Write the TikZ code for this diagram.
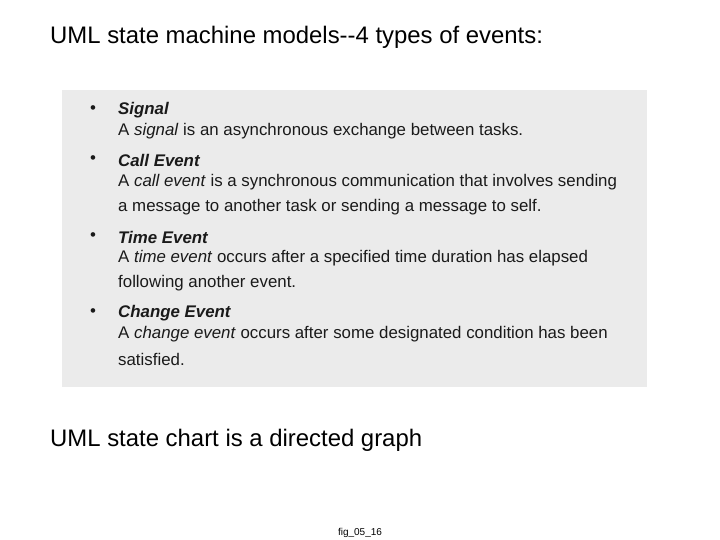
\documentclass[tikz,border=0pt]{standalone}
\usepackage{fontspec}
\setmainfont{Liberation Sans}
\definecolor{boxgray}{HTML}{EBEBEB}
\definecolor{txt}{HTML}{1A1A1A}
\begin{document}
\begin{tikzpicture}[x=1pt,y=-1pt,
  t/.style={anchor=west,inner sep=0pt,font=\fontsize{16.85}{20}\selectfont,text=txt},
  bul/.style={anchor=center,inner sep=0pt,font=\fontsize{16.85}{20}\selectfont,text=txt}]
\useasboundingbox (0,0) rectangle (720,540);
\fill[white] (0,0) rectangle (720,540);
\node[anchor=west,inner sep=0pt,font=\fontsize{23.9}{28}\selectfont] (title) at (50,37) {UML state machine models-{}-4 types of events:};
\fill[boxgray] (62,90) rectangle (647,387);
\foreach \y in {110,160,237,313} \node[bul] at (93,\y) {•};
\node[t] (s1) at (118,110) {\textbf{\textit{Signal}}};
\node[t] (s2) at (118,131) {A \textit{signal} is an asynchronous exchange between tasks.};
\node[t] (c1) at (118,160) {\textbf{\textit{Call Event}}};
\node[t] (c2) at (118,182) {A \textit{call event} is a synchronous communication that involves sending};
\node[t] (c3) at (118,207) {a message to another task or sending a message to self.};
\node[t] (e1) at (118,237) {\textbf{\textit{Time Event}}};
\node[t] (e2) at (118,258) {A \textit{time event} occurs after a specified time duration has elapsed};
\node[t] (e3) at (118,283) {following another event.};
\node[t] (g1) at (118,313) {\textbf{\textit{Change Event}}};
\node[t] (g2) at (118,334) {A \textit{change event} occurs after some designated condition has been};
\node[t] (g3) at (118,359) {satisfied.};
\node[anchor=west,inner sep=0pt,font=\fontsize{23.9}{28}\selectfont] (sub) at (50,440) {UML state chart is a directed graph};
\node[inner sep=0pt,font=\fontsize{10}{12}\selectfont] (fig) at (360,533) {fig\_05\_16};
\end{tikzpicture}
\end{document}
